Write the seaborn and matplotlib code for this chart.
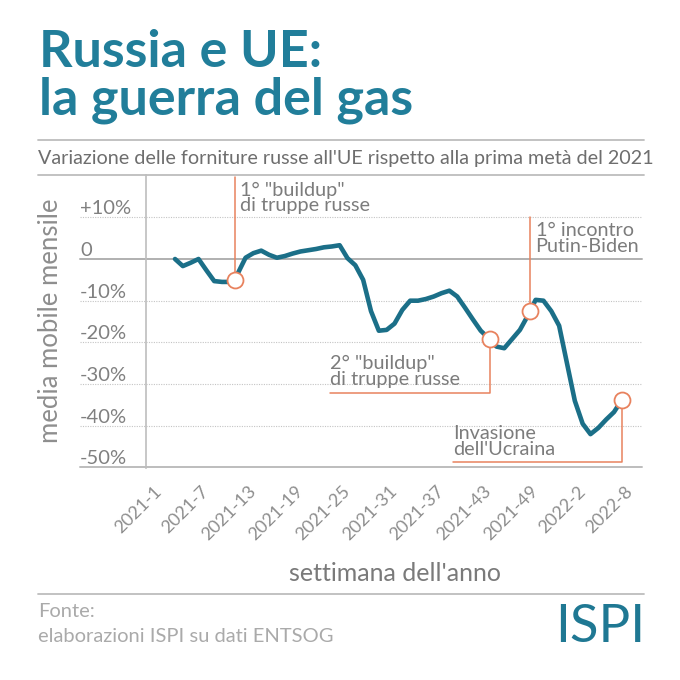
import matplotlib
matplotlib.use("Agg")
import matplotlib.pyplot as plt
import seaborn as sns
import numpy as np
import pandas as pd
from matplotlib.lines import Line2D

# ---------------- data ----------------
weeks = list(range(2, 60))  # week index (0 = 2021-1)
supply_change = [
    0.0, -1.7, -0.9, 0.0, -2.7, -5.3, -5.5, -5.5, -3.5, 0.3,
    1.4, 2.0, 1.0, 0.3, 0.7, 1.3, 1.8, 2.1, 2.4, 2.8,
    3.0, 3.3, 0.2, -1.5, -5.0, -12.5, -17.2, -17.0, -15.5, -12.2,
    -10.0, -10.0, -9.6, -9.0, -8.2, -7.6, -9.0, -11.7, -14.5, -17.2,
    -19.0, -21.0, -21.4, -19.2, -17.0, -13.6, -9.8, -10.0, -12.5, -16.0,
    -25.0, -34.0, -39.5, -42.0, -40.5, -38.5, -36.7, -33.8,
]
tick_pos = [0, 6, 12, 18, 24, 30, 36, 42, 48, 54, 60]
tick_labels = ["2021-1", "2021-7", "2021-13", "2021-19", "2021-25", "2021-31",
               "2021-37", "2021-43", "2021-49", "2022-2", "2022-8"]
y_ticks = [10, 0, -10, -20, -30, -40, -50]
y_tick_labels = ["+10%", "0", "-10%", "-20%", "-30%", "-40%", "-50%"]

event_x = [9.6, 42.2, 47.3, 59.0]
event_y = [-5.1, -19.2, -12.4, -33.8]
event_text = ['1° "buildup"\ndi truppe russe',
              '2° "buildup"\ndi truppe russe',
              '1° incontro\nPutin-Biden',
              "Invasione\ndell'Ucraina"]

# ---------------- style ----------------
TEAL = "#217e9a"
LINE = "#1b6f88"
ORANGE = "#e8825e"
GRAY = "#7c7c7c"
RULE = "#bdbdbd"

sns.set_theme(style="white")
plt.rcParams["font.family"] = ["Lato", "DejaVu Sans"]

fig = plt.figure(figsize=(6.8, 6.8), dpi=100)
fig.patch.set_facecolor("white")


def fx(px):
    return px / 680.0


def fy(py):
    return 1 - py / 680.0


ax = fig.add_axes([fx(146), fy(468), fx(642) - fx(146), fy(175) - fy(468)])
ax.set_facecolor("white")

df = pd.DataFrame({"week": weeks, "val": supply_change})
sns.lineplot(data=df, x="week", y="val", ax=ax, color=LINE, linewidth=3.3,
             solid_joinstyle="round", solid_capstyle="round", zorder=3)

ax.set_xlim(-1.70, 61.57)
ax.set_ylim(-50.12, 20.14)

# grid lines (extend left under the tick labels)
ext = (80 - 146) / 496.0
for v in y_ticks:
    if v == 0:
        ax.axhline(v, xmin=ext, xmax=1, color="#b0b0b0", lw=1.4, clip_on=False, zorder=1)
    elif v == -50:
        ax.axhline(v, xmin=ext, xmax=1, color=RULE, lw=1.4, clip_on=False, zorder=1)
    else:
        ax.axhline(v, xmin=ext, xmax=1, color="#c4c4c4", lw=0.8,
                   linestyle=(0, (1, 1.2)), clip_on=False, zorder=1)

for s in ["top", "right", "bottom"]:
    ax.spines[s].set_visible(False)
ax.spines["left"].set_color(RULE)
ax.spines["left"].set_linewidth(1.2)

# ticks
ax.set_xticks(tick_pos, tick_labels)
ax.set_yticks(y_ticks, y_tick_labels)
ax.tick_params(axis="both", length=0)
ax.tick_params(axis="y", pad=47.5, labelsize=14.5, labelcolor="#808080")
ax.tick_params(axis="x", pad=15, labelsize=13, labelcolor="#8e8e8e")
for lab in ax.get_yticklabels():
    lab.set_horizontalalignment("left")
    lab.set_verticalalignment("bottom")
for lab in ax.get_xticklabels():
    lab.set_rotation(45)
    lab.set_horizontalalignment("right")
    lab.set_verticalalignment("center")
    lab.set_rotation_mode("anchor")

ax.set_xlabel("settimana dell'anno", fontsize=18, color="#7a7a7a")
ax.xaxis.set_label_coords(0.502, -0.322)
ax.set_ylabel("media mobile mensile", fontsize=18.5, color="#8e8e8e")
ax.yaxis.set_label_coords(-0.168, 0.502)

# ---------------- annotations ----------------
ax.plot([event_x[0], event_x[0]], [event_y[0], 19.6], color=ORANGE, lw=1.1, zorder=2)
ax.plot([event_x[1], event_x[1], 21.8], [event_y[1], -32.1, -32.1], color=ORANGE, lw=1.1, zorder=2)
ax.plot([event_x[2], event_x[2]], [event_y[2], 10.0], color=ORANGE, lw=1.1, zorder=2)
ax.plot([event_x[3], event_x[3], 37.5], [event_y[3], -48.7, -48.7], color=ORANGE, lw=1.1,
        zorder=2, clip_on=False)
ax.scatter(event_x, event_y, s=132, facecolor="white", edgecolor=ORANGE,
           linewidths=1.3, zorder=5, clip_on=False)

tkw = dict(fontsize=14.3, color=GRAY, linespacing=0.92, zorder=6)
ax.text(10.3, 18.6, event_text[0], ha="left", va="top", **tkw)
ax.text(21.8, -31.0, event_text[1], ha="left", va="bottom", **tkw)
ax.text(48.0, 8.8, event_text[2], ha="left", va="top", **tkw)
ax.text(37.5, -47.8, event_text[3], ha="left", va="bottom", **tkw)

# ---------------- header / footer ----------------
fig.text(fx(39), fy(67), "Russia e UE:", fontsize=37.5, fontweight="bold", color=TEAL, va="baseline")
fig.text(fx(39), fy(115), "la guerra del gas", fontsize=37.5, fontweight="bold", color=TEAL, va="baseline")
fig.text(fx(38), fy(164), "Variazione delle forniture russe all'UE rispetto alla prima metà del 2021",
         fontsize=14.2, color="#6e6e6e", va="baseline")

for yy in (140, 175, 594):
    fig.add_artist(Line2D([fx(38), fx(644)], [fy(yy), fy(yy)], color=RULE, lw=1.3))

fig.text(fx(38), fy(617), "Fonte:", fontsize=14.5, color="#aaaaaa", va="baseline")
fig.text(fx(38), fy(642), "elaborazioni ISPI su dati ENTSOG", fontsize=14.5,
         color="#aaaaaa", va="baseline")
fig.text(fx(645), fy(642), "ISPI", fontsize=38, color="#1f7893",
         ha="right", va="baseline")

fig.savefig("out.png", dpi=100)
